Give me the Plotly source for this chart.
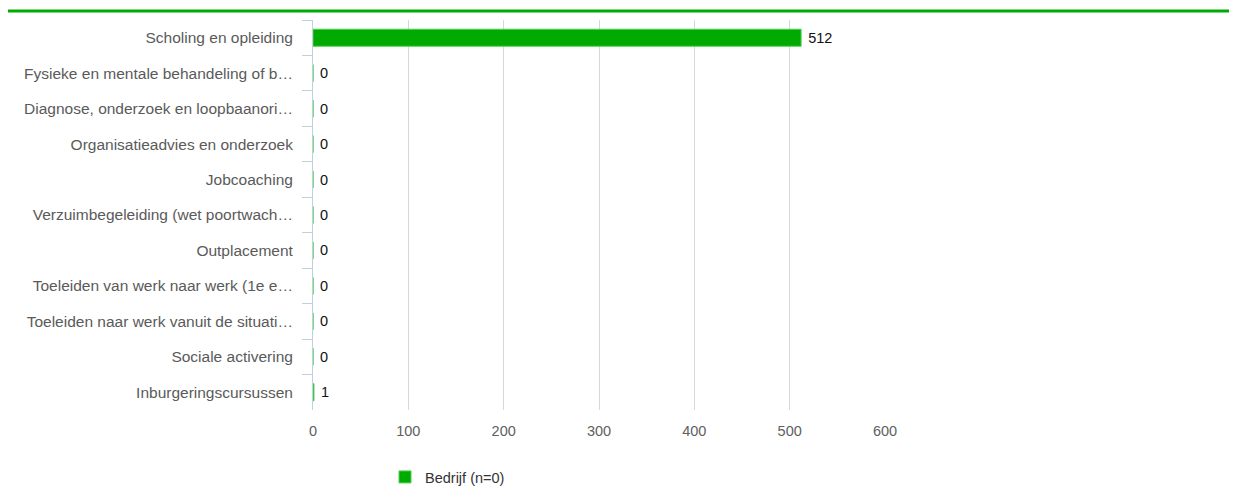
import plotly.graph_objects as go

categories = [
    "Scholing en opleiding",
    "Fysieke en mentale behandeling of b…",
    "Diagnose, onderzoek en loopbaanori…",
    "Organisatieadvies en onderzoek",
    "Jobcoaching",
    "Verzuimbegeleiding (wet poortwach…",
    "Outplacement",
    "Toeleiden van werk naar werk (1e e…",
    "Toeleiden naar werk vanuit de situati…",
    "Sociale activering",
    "Inburgeringscursussen",
]
values = [512, 0, 0, 0, 0, 0, 0, 0, 0, 0, 1]
series_name = "Bedrijf (n=0)"
x_ticks = [0, 100, 200, 300, 400, 500, 600]

# page body has an 8px margin; figure coordinates are offset by that
W, H = 1221, 481
L, T = 305, 12
R = W - 877
B = H - 402
PW, PH = W - L - R, H - T - B

fig = go.Figure()
fig.add_trace(go.Bar(
    x=values, y=categories, orientation="h", name=series_name,
    marker=dict(color="#00aa00", line=dict(color="#4fd04f", width=1)),
    width=0.48,
    text=values, texttemplate="\u00a0%{x}", textposition="outside", cliponaxis=False,
    textfont=dict(family="Liberation Sans, Arial", size=14.5, color="#111111"),
    showlegend=True,
))

fig.update_layout(
    width=W, height=H,
    margin=dict(l=L, r=R, t=T, b=B, pad=0, autoexpand=False),
    paper_bgcolor="white", plot_bgcolor="white",
    font=dict(family="Liberation Sans, Arial", size=14.5, color="#606060"),
    xaxis=dict(
        range=[0, 600], tickvals=x_ticks, showgrid=True, gridcolor="#d8d8d8",
        gridwidth=1, zeroline=False, showline=False, ticks="",
        ticklabelstandoff=10, automargin=False,
        tickfont=dict(size=14.5, color="#606060"),
    ),
    yaxis=dict(
        type="category", autorange="reversed", tickson="boundaries",
        ticks="outside", ticklen=10, tickcolor="#c0d0e0", tickwidth=1,
        showline=True, linecolor="#c0d0e0", linewidth=1,
        showgrid=False, zeroline=False,
        ticklabelstandoff=16, automargin=False,
        tickfont=dict(size=15.5, color="#5a5a5a"),
    ),
    legend=dict(
        orientation="h", x=(377 - L) / PW, y=(H - B - 469) / PH,
        xanchor="left", yanchor="middle",
        font=dict(size=14.5, color="#333333"),
        bgcolor="rgba(0,0,0,0)",
    ),
    shapes=[dict(
        type="line", xref="paper", yref="paper",
        x0=(0 - L) / PW, x1=(1229 - L) / PW,
        y0=(H - B - 3) / PH, y1=(H - B - 3) / PH,
        line=dict(color="#00aa00", width=3),
    )],
)

fig.write_html("out.html")
